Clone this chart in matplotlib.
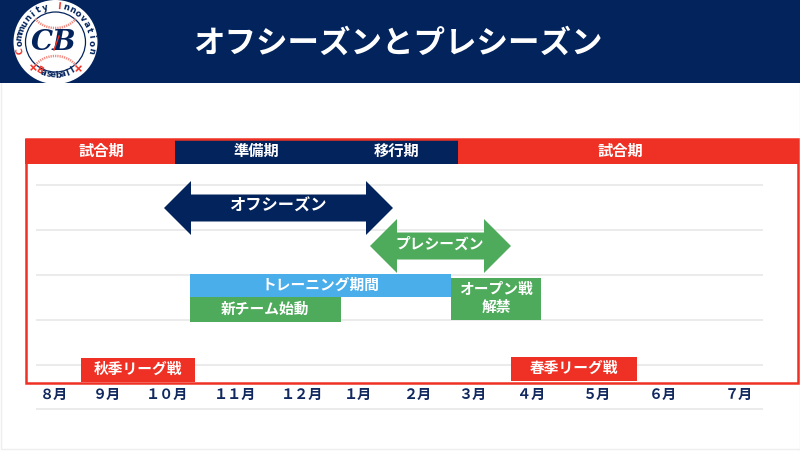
from matplotlib import pyplot as plt, patches
import numpy as np

plt.rcParams['font.family'] = ['Noto Sans CJK JP', 'DejaVu Sans']

NAVY = '#03235c'
RED = '#ee3124'
GREEN = '#4fab5c'
BLUE = '#4aaeea'

title = 'オフシーズンとプレシーズン'

# x positions are read off the picture in pixels, the slide has no real scale
months = ['８月', '９月', '１０月', '１１月', '１２月', '１月', '２月', '３月', '４月', '５月', '６月', '７月']
month_x = [54, 107, 167, 235, 302, 358, 417, 472, 531, 597, 663, 739]

phase_labels = ['試合期', '準備期', '移行期', '試合期']
phase_text_x = [101, 256, 397, 620]
band_left = [25, 175, 458]
band_right = [175, 458, 799]
band_colors = [RED, NAVY, RED]

grid_y = [185, 230, 275, 320, 365, 409]

bar_labels = ['トレーニング期間', '新チーム始動', 'オープン戦\n解禁', '秋季リーグ戦', '春季リーグ戦']
bar_left = [190, 190, 451, 81, 511]
bar_right = [451, 341, 541, 195, 637]
bar_top = [274, 297, 278, 358, 357]
bar_bottom = [297, 322, 320, 382, 381]
bar_colors = [BLUE, GREEN, GREEN, RED, RED]
bar_text_x = [321, 265, 496, 138, 574]

arrow_labels = ['オフシーズン', 'プレシーズン']
arrow_left = [164, 370]
arrow_right = [393, 511]
arrow_mid = [208, 246]
arrow_colors = [NAVY, GREEN]
arrow_text_x = [278, 440]
arrow_text_size = [11.7, 10.6]

fig = plt.figure(figsize=(8, 4.53), dpi=100)
ax = fig.add_axes([0, 0, 1, 1])
ax.set_xlim(0, 800)
ax.set_ylim(453, 0)
ax.axis('off')

# Page edge
ax.add_patch(patches.Rectangle((0.5, 0), 799, 449, facecolor='white', edgecolor='#eeeeee', linewidth=1))

# Header
ax.barh(41.5, 800, left=0, height=83, color=NAVY, zorder=2)
ax.text(398, 44, title, color='white', fontsize=22.7, fontweight='bold', ha='center', va='center', zorder=3)

# Logo
ax.add_patch(patches.Circle((55.5, 42), 42, facecolor='white', edgecolor='none', zorder=3))
ax.add_patch(patches.Circle((55.5, 42), 30, facecolor='none', edgecolor=NAVY, linewidth=0.9, zorder=4))
for sign in [-1, 1]:
    t = np.linspace(-1, 1, 30)
    ax.plot(55.5 + 24 * np.sin(t), 42 + sign * (14 + 20 * (1 - np.cos(t))), color='#f08a80', linewidth=1.8,
            linestyle=(0, (0.5, 0.4)), zorder=4)
ax.text(54, 42, 'CB', color=NAVY, fontsize=20, fontstyle='italic', fontweight='bold', family='DejaVu Serif',
        ha='center', va='center', zorder=5)
ax.plot([59, 54], [36, 50], color=RED, linewidth=1, zorder=6)

top_text = 'Community Innovation'
for i, ch in enumerate(top_text):
    a = np.radians(-103 + i * 206 / (len(top_text) - 1))
    ax.text(55.5 + 36 * np.sin(a), 42 - 36 * np.cos(a), ch, color=RED if ch in 'CI' else NAVY, fontsize=6.2,
            fontweight='bold', family='DejaVu Sans', rotation=-np.degrees(a), ha='center', va='center', zorder=5)
bottom_text = 'Baseball'
for i, ch in enumerate(bottom_text):
    a = np.radians(-30 + i * 60 / (len(bottom_text) - 1))
    ax.text(55.5 + 33 * np.sin(a), 42 + 33 * np.cos(a), ch, color=RED if ch == 'B' else NAVY, fontsize=6.2,
            fontweight='bold', family='DejaVu Sans', rotation=np.degrees(a), ha='center', va='center', zorder=5)
for x in [32, 79]:
    ax.text(x, 68, '+', color=RED, fontsize=9, fontweight='bold', family='DejaVu Sans', ha='center', va='center',
            rotation=45 if x > 50 else -45, zorder=5)

# Grid
ax.hlines(grid_y, 36, 763, color='#e8e8e8', linewidth=1.2, zorder=1)

# Season band and frame
for left, right, color in zip(band_left, band_right, band_colors):
    ax.barh(151.5, right - left, left=left, height=25, color=color, zorder=2)
ax.add_patch(patches.Rectangle((26, 139), 772, 244, facecolor='none', edgecolor=RED, linewidth=1.8, zorder=3))
for x, label in zip(phase_text_x, phase_labels):
    ax.text(x, 151, label, color='white', fontsize=11, fontweight='bold', ha='center', va='center', zorder=4)

# Double arrows
for left, right, mid, color in zip(arrow_left, arrow_right, arrow_mid, arrow_colors):
    verts = [(left, mid), (left + 27, mid - 27), (left + 27, mid - 13.5), (right - 27, mid - 13.5), (right - 27, mid - 27),
             (right, mid), (right - 27, mid + 27), (right - 27, mid + 13.5), (left + 27, mid + 13.5), (left + 27, mid + 27)]
    ax.add_patch(patches.Polygon(verts, closed=True, facecolor=color, edgecolor='none', zorder=4))
for x, mid, label, size in zip(arrow_text_x, arrow_mid, arrow_labels, arrow_text_size):
    ax.text(x, mid - 2, label, color='white', fontsize=size, fontweight='bold', ha='center', va='center', zorder=5)

# Bars
for left, right, top, bottom, color in zip(bar_left, bar_right, bar_top, bar_bottom, bar_colors):
    ax.barh((top + bottom) / 2, right - left, left=left, height=bottom - top, color=color, zorder=4)
for x, top, bottom, label in zip(bar_text_x, bar_top, bar_bottom, bar_labels):
    ax.text(x, (top + bottom) / 2 - 1, label, color='white', fontsize=10.6, fontweight='bold', ha='center', va='center',
            linespacing=1.1, zorder=5)

# Month labels
for x, label in zip(month_x, months):
    ax.text(x, 394.5, label, color='#12295f', fontsize=10.2, fontweight='bold', ha='center', va='center', zorder=5)

fig.savefig('out.png', dpi=100)
